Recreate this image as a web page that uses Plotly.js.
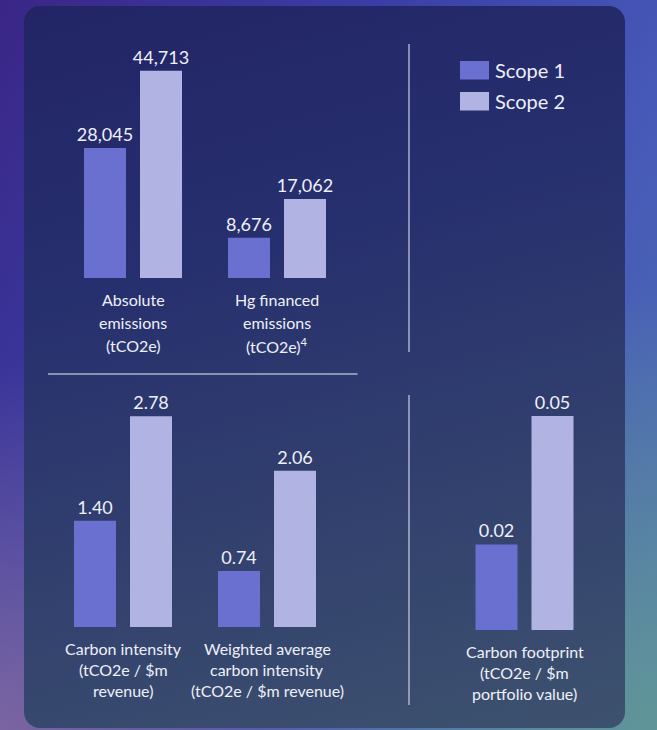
<!DOCTYPE html>
<html>
<head>
<meta charset="utf-8">
<script src="https://cdn.plot.ly/plotly-3.0.1.min.js"></script>
<style>
html,body{margin:0;padding:0;width:657px;height:730px;overflow:hidden;}
body{
  background:
    radial-gradient(ellipse 60% 50% at 0% 100%, rgba(130,105,160,0.9) 0%, rgba(130,105,160,0) 100%),
    radial-gradient(ellipse 60% 60% at 100% 100%, rgba(96,150,152,1) 0%, rgba(96,150,152,0) 100%),
    linear-gradient(120deg, #3a2686 0%, #3a3ea6 35%, #4658b8 65%, #4f74b0 100%);
}
#panel{position:absolute;left:24px;top:6px;width:601px;height:722px;border-radius:16px;
  background:linear-gradient(165deg,#222466 0%,#27306e 35%,#33426e 70%,#3d526e 100%);}
#chart{position:absolute;left:0;top:0;width:657px;height:730px;}
</style>
</head>
<body>
<div id="panel"></div>
<div id="chart"></div>
<script>
// ---- data ----
const seriesNames = ['Scope 1', 'Scope 2'];
const seriesColors = ['#6a70cf', '#b1b4e3'];

const emissionsCategories = ['Absolute<br>emissions<br>(tCO2e)', 'Hg financed<br>emissions<br>(tCO2e)<sup>4</sup>'];
const emissionsScope1 = [28045, 8676];
const emissionsScope2 = [44713, 17062];

const intensityCategories = ['Carbon intensity<br>(tCO2e / $m<br>revenue)', 'Weighted average<br>carbon intensity<br>(tCO2e / $m revenue)'];
const intensityScope1 = [1.40, 0.74];
const intensityScope2 = [2.78, 2.06];

const footprintCategories = ['Carbon footprint<br>(tCO2e / $m<br>portfolio value)'];
const footprintScope1 = [0.02];
const footprintScope2 = [0.05];

// ---- build ----
const W = 657, H = 730;
const px = v => v / W;
const py = v => (H - v) / H;
const FONT = 'Lato, "Noto Sans", sans-serif';
const TXT = '#eef0fa';

function idx(arr){ return arr.map((_, i) => i); }

function barTrace(cats, vals, s, xa, ya, fmt){
  return {
    type: 'bar', x: idx(cats), y: vals, name: seriesNames[s],
    xaxis: xa, yaxis: ya, showlegend: false,
    marker: {color: seriesColors[s], line: {width: 0}},
    texttemplate: fmt, textposition: 'outside', cliponaxis: false,
    constraintext: 'none',
    textfont: {family: FONT, size: 18, color: TXT},
    hoverinfo: 'skip'
  };
}

const data = [
  barTrace(emissionsCategories, emissionsScope1, 0, 'x', 'y', '%{y:,}'),
  barTrace(emissionsCategories, emissionsScope2, 1, 'x', 'y', '%{y:,}'),
  barTrace(intensityCategories, intensityScope1, 0, 'x2', 'y2', '%{y:.2f}'),
  barTrace(intensityCategories, intensityScope2, 1, 'x2', 'y2', '%{y:.2f}'),
  barTrace(footprintCategories, footprintScope1, 0, 'x3', 'y3', '%{y:.2f}'),
  barTrace(footprintCategories, footprintScope2, 1, 'x3', 'y3', '%{y:.2f}')
];

const hiddenAxis = {showgrid:false, zeroline:false, showline:false, showticklabels:false, ticks:'', fixedrange:true};

// category labels, one annotation per line
const annotations = [];
function addLabels(cats, xa, firstLineY, spacing){
  cats.forEach((c, i) => {
    c.split('<br>').forEach((line, k) => {
      annotations.push({
        xref: xa, yref: 'paper', x: i, y: py(firstLineY + k * spacing),
        text: line, showarrow: false, xanchor: 'center', yanchor: 'middle',
        font: {family: FONT, size: 16, color: TXT}
      });
    });
  });
}
addLabels(emissionsCategories, 'x', 299, 23.3);
addLabels(intensityCategories, 'x2', 648, 21);
addLabels(footprintCategories, 'x3', 651, 21);

// legend
const shapes = [];
seriesNames.forEach((n, s) => {
  const top = 61 + s * 31;
  shapes.push({type:'rect', xref:'paper', yref:'paper', x0:px(460), x1:px(489), y0:py(top+18.5), y1:py(top),
    fillcolor: seriesColors[s], line:{width:0}});
  annotations.push({xref:'paper', yref:'paper', x:px(493), y:py(top+9.5), text:n, showarrow:false,
    xanchor:'left', yanchor:'middle', font:{family:FONT, size:20, color:TXT}});
});

// dividers
const divColor = 'rgba(215,218,235,0.75)';
shapes.push({type:'line', xref:'paper', yref:'paper', x0:px(409), x1:px(409), y0:py(44), y1:py(352), line:{color:divColor, width:1.5}});
shapes.push({type:'line', xref:'paper', yref:'paper', x0:px(409), x1:px(409), y0:py(395), y1:py(705), line:{color:divColor, width:1.5}});
shapes.push({type:'line', xref:'paper', yref:'paper', x0:px(48), x1:px(357.5), y0:py(374), y1:py(374), line:{color:divColor, width:1.5}});

const layout = {
  width: W, height: H,
  margin: {l:0, r:0, t:0, b:0, pad:0},
  paper_bgcolor: 'rgba(0,0,0,0)', plot_bgcolor: 'rgba(0,0,0,0)',
  barmode: 'group', bargap: 0.2222, bargroupgap: 0.25,
  font: {family: FONT, color: TXT},
  xaxis:  Object.assign({}, hiddenAxis, {domain:[px(61), px(349)], range:[-0.5, 1.5], anchor:'y'}),
  yaxis:  Object.assign({}, hiddenAxis, {domain:[py(278), py(46.25)], range:[0, 50000], anchor:'x'}),
  xaxis2: Object.assign({}, hiddenAxis, {domain:[px(51), px(339)], range:[-0.5, 1.5], anchor:'y2'}),
  yaxis2: Object.assign({}, hiddenAxis, {domain:[py(627), py(384.4)], range:[0, 3.2], anchor:'x2'}),
  xaxis3: Object.assign({}, hiddenAxis, {domain:[px(452.5), px(596.5)], range:[-0.5, 0.5], anchor:'y3'}),
  yaxis3: Object.assign({}, hiddenAxis, {domain:[py(630), py(390.3)], range:[0, 0.056], anchor:'x3'}),
  shapes: shapes,
  annotations: annotations,
  showlegend: false
};

Plotly.newPlot('chart', data, layout, {staticPlot: true, displayModeBar: false});
</script>
</body>
</html>
